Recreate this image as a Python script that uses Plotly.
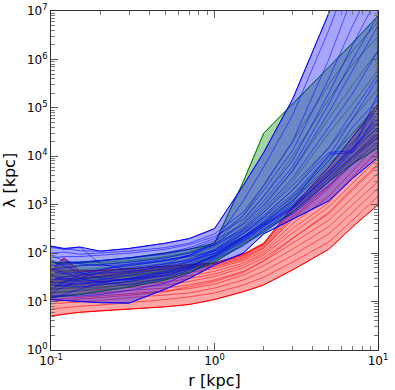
import numpy as np
import plotly.graph_objects as go

# radii where each profile is sampled [kpc]
radius = [0.1, 0.12, 0.15, 0.2, 0.3, 0.5, 0.7, 1.0, 1.5, 2.0, 3.0, 5.0, 7.0, 10.0]

# lambda profiles [kpc], one list per object
red_profiles = [
    [5, 5.5, 6, 6.5, 7, 7.8, 8.7, 11, 16, 22, 45, 120, 350, 1000],
    [7, 7.5, 8, 8.5, 9.5, 11, 12.5, 15, 22, 32, 65, 170, 480, 1500],
    [9, 9.3, 9.8, 10.5, 12, 13.5, 15, 19, 28, 42, 90, 250, 700, 2200],
    [11, 11.5, 12, 13, 14.5, 16.5, 18.5, 23, 35, 55, 120, 350, 1000, 3000],
    [13, 13.5, 14, 15, 17, 19, 22, 28, 42, 68, 160, 480, 1400, 4500],
    [15, 16, 16.5, 17.5, 19.5, 22, 26, 33, 50, 80, 200, 650, 2000, 6500],
    [18, 18.5, 19, 20, 22, 25, 30, 37, 56, 92, 260, 900, 2800, 9000],
    [20, 21, 22, 23, 25, 29, 34, 42, 62, 100, 320, 1100, 3800, 13000],
    [24, 25, 26, 27, 30, 34, 40, 48, 70, 110, 400, 1500, 5000, 18000],
    [28, 29, 30, 31, 34, 39, 46, 52, 75, 125, 500, 2200, 7000, 25000],
    [32, 33, 34, 36, 40, 45, 53, 58, 85, 140, 600, 3000, 10000, 35000],
    [35, 80, 30, 33, 38, 48, 56, 60, 90, 150, 800, 4500, 15000, 50000],
    [40, 40, 41, 43, 47, 52, 58, 62, 95, 160, 900, 6000, 25000, 120000],
    [45, 44, 43, 44, 48, 54, 58, 62, 92, 155, 700, 3500, 10000, 30000],
    [26, 27, 32, 38, 42, 46, 50, 55, 80, 130, 550, 2400, 8000, 30000],
    [10, 10.5, 11, 12, 13.5, 16, 20, 26, 40, 70, 200, 700, 2200, 7000],
]

green_profiles = [
    [60, 62, 65, 70, 80, 100, 120, 150, 3000, 30000, 120000, 700000, 2.2e6, 8e6],
    [65, 64, 62, 64, 70, 85, 105, 160, 600, 2500, 20000, 300000, 1.5e6, 6e6],
    [50, 52, 55, 58, 65, 80, 100, 150, 450, 1500, 10000, 150000, 800000, 3e6],
    [40, 42, 45, 48, 55, 68, 85, 130, 350, 900, 5000, 60000, 300000, 1.5e6],
    [35, 36, 38, 40, 45, 58, 75, 115, 300, 700, 3000, 30000, 120000, 600000],
    [30, 30, 31, 33, 38, 50, 65, 100, 250, 550, 2000, 15000, 60000, 250000],
    [25, 26, 27, 29, 33, 44, 58, 90, 220, 450, 1500, 9000, 30000, 120000],
    [22, 22, 23, 25, 29, 38, 52, 82, 200, 400, 1200, 7000, 20000, 60000],
    [18, 19, 20, 22, 26, 35, 48, 75, 180, 350, 1000, 5000, 14000, 40000],
    [15, 16, 17, 19, 23, 31, 44, 70, 160, 300, 850, 4000, 10000, 25000],
    [12, 13, 14, 16, 20, 28, 40, 65, 150, 270, 700, 3000, 7000, 15000],
    [20, 25, 30, 32, 35, 42, 55, 85, 210, 420, 1300, 8000, 30000, 100000],
]

blue_profiles = [
    [130, 125, 112, 110, 125, 160, 200, 320, 2500, 12000, 150000, 9e6, 2e8, 5e9],
    [140, 118, 134, 60, 45, 60, 90, 170, 1200, 6000, 70000, 4e6, 8e7, 2e9],
    [100, 105, 95, 100, 110, 130, 160, 250, 700, 2500, 20000, 1e6, 2e7, 5e8],
    [80, 85, 85, 90, 100, 120, 150, 220, 500, 1500, 8000, 200000, 2e6, 2e7],
    [60, 62, 65, 70, 80, 95, 120, 180, 400, 1000, 5000, 80000, 600000, 5e6],
    [45, 50, 55, 58, 65, 80, 100, 150, 320, 800, 3500, 40000, 200000, 1.5e6],
    [40, 38, 40, 45, 55, 70, 90, 140, 300, 700, 2500, 15000, 80000, 500000],
    [35, 30, 28, 32, 40, 55, 75, 120, 280, 600, 2000, 12000, 13000, 200000],
    [30, 28, 26, 28, 35, 48, 65, 110, 250, 500, 1400, 8000, 40000, 150000],
    [25, 24, 23, 25, 30, 42, 60, 100, 220, 450, 1200, 6000, 25000, 100000],
    [20, 22, 24, 26, 28, 38, 55, 90, 200, 400, 1000, 5000, 15000, 60000],
    [15, 20, 30, 40, 50, 60, 70, 100, 200, 380, 900, 4000, 12000, 40000],
    [12, 14, 18, 24, 30, 40, 52, 85, 180, 350, 800, 3500, 10000, 30000],
    [11, 10.5, 10, 9.5, 9.3, 18, 30, 57, 100, 250, 500, 1200, 3500, 9500],
    [50, 40, 30, 25, 22, 30, 45, 80, 170, 320, 700, 3000, 9000, 25000],
    [18, 25, 35, 45, 60, 75, 85, 110, 220, 420, 1100, 11000, 12000, 80000],
    [70, 55, 40, 30, 28, 35, 50, 95, 210, 380, 900, 4500, 18000, 100000],
    [28, 32, 36, 38, 42, 52, 68, 115, 260, 550, 1600, 10000, 60000, 400000],
    [22, 21, 20, 22, 26, 34, 48, 88, 190, 360, 850, 4000, 14000, 50000],
    [90, 70, 60, 55, 58, 70, 90, 150, 400, 1200, 6000, 120000, 1e6, 8e6],
    [13, 13, 13, 14, 17, 24, 38, 75, 140, 300, 650, 2500, 7000, 20000],
    [55, 58, 62, 68, 78, 100, 130, 200, 600, 2000, 13000, 400000, 5e6, 6e7],
]

x_tick_vals = [0.1, 1, 10]
x_tick_text = ['10<sup>-1</sup>', '10<sup>0</sup>', '10<sup>1</sup>']
y_tick_vals = [1, 10, 100, 1e3, 1e4, 1e5, 1e6, 1e7]
y_tick_text = ['10<sup>%d</sup>' % i for i in range(8)]

groups = [
    (red_profiles, (255, 0, 0)),
    (green_profiles, (0, 128, 0)),
    (blue_profiles, (0, 0, 255)),
]

fig = go.Figure()

for profiles, (cr, cg, cb) in groups:
    arr = np.array(profiles, dtype=float)
    lo = arr.min(axis=0)
    hi = arr.max(axis=0)
    # shaded envelope between the lowest and highest profile
    fig.add_trace(go.Scatter(
        x=radius + radius[::-1], y=list(hi) + list(lo[::-1]),
        mode='lines', fill='toself',
        fillcolor='rgba(%d,%d,%d,0.35)' % (cr, cg, cb),
        line=dict(color='rgb(%d,%d,%d)' % (cr, cg, cb), width=1),
        hoverinfo='skip', showlegend=False))
    for prof in profiles:
        fig.add_trace(go.Scatter(
            x=radius, y=prof, mode='lines',
            line=dict(color='rgba(%d,%d,%d,0.7)' % (cr, cg, cb), width=0.8),
            showlegend=False))

minor_x = [v * d for d in (0.1, 1) for v in range(2, 10)]
minor_y = [v * 10 ** d for d in range(7) for v in range(2, 10)]

axis_common = dict(
    type='log', showgrid=False, zeroline=False, automargin=False,
    showline=True, linecolor='#333', linewidth=1, mirror='allticks',
    ticks='inside', ticklen=7, tickcolor='#555', tickwidth=1,
    tickfont=dict(family='DejaVu Sans', size=12, color='black'),
)

fig.update_xaxes(
    **axis_common, range=[-1, 1],
    tickvals=x_tick_vals, ticktext=x_tick_text,
    minor=dict(tickvals=minor_x, ticks='inside', ticklen=4, tickcolor='#777'),
    title=dict(text='r [kpc]', font=dict(family='DejaVu Sans', size=16, color='black')),
)
fig.update_yaxes(
    **axis_common, range=[0, 7],
    tickvals=y_tick_vals, ticktext=y_tick_text,
    minor=dict(tickvals=minor_y, ticks='inside', ticklen=4, tickcolor='#777'),
    title=dict(text='λ [kpc]', font=dict(family='DejaVu Sans', size=16, color='black')),
)

fig.update_layout(
    width=395, height=390,
    margin=dict(l=51, r=17, t=11, b=40),
    plot_bgcolor='white', paper_bgcolor='white',
    showlegend=False,
)

# drop the page's default body margin so the figure sits at the window origin
fig.write_html("out.html", config={'displayModeBar': False},
               post_script="document.body.style.margin='0';")
